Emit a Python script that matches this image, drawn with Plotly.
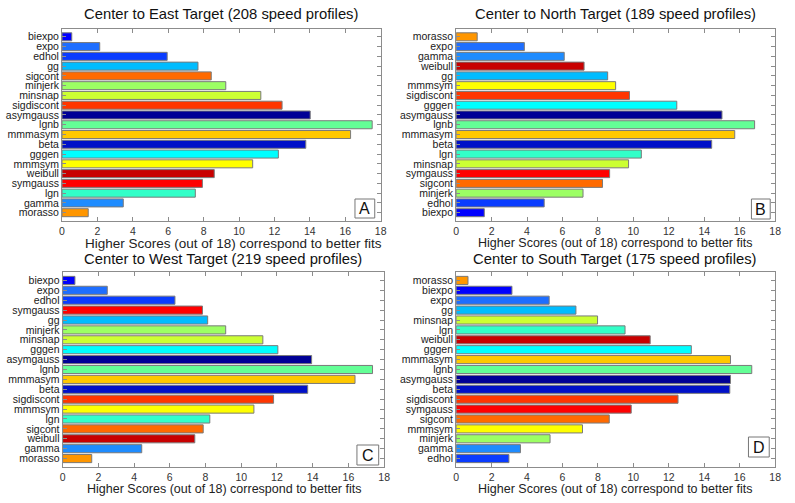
import plotly.graph_objects as go

# ---- data (top-to-bottom order as drawn) ----
east_models = ["biexpo", "expo", "edhol", "gg", "sigcont", "minjerk", "minsnap", "sigdiscont",
               "asymgauss", "lgnb", "mmmasym", "beta", "gggen", "mmmsym", "weibull", "symgauss",
               "lgn", "gamma", "morasso"]
east_scores = [0.55, 2.13, 5.94, 7.68, 8.43, 9.25, 11.23, 12.43, 14.02, 17.52, 16.30, 13.77,
               12.22, 10.77, 8.60, 7.93, 7.53, 3.46, 1.48]

north_models = ["morasso", "expo", "gamma", "weibull", "gg", "mmmsym", "sigdiscont", "gggen",
                "asymgauss", "lgnb", "mmmasym", "beta", "lgn", "minsnap", "symgauss", "sigcont",
                "minjerk", "edhol", "biexpo"]
north_scores = [1.19, 3.85, 6.10, 7.22, 8.55, 9.00, 9.78, 12.45, 15.00, 16.84, 15.72, 14.42,
                10.45, 9.73, 8.66, 8.26, 7.16, 4.97, 1.59]

west_models = ["biexpo", "expo", "edhol", "symgauss", "gg", "minjerk", "minsnap", "gggen",
               "asymgauss", "lgnb", "mmmasym", "beta", "sigdiscont", "mmmsym", "lgn", "sigcont",
               "weibull", "gamma", "morasso"]
west_scores = [0.69, 2.50, 6.29, 7.83, 8.12, 9.13, 11.21, 12.05, 13.94, 17.35, 16.37, 13.72,
               11.81, 10.71, 8.24, 7.87, 7.40, 4.43, 1.63]

south_models = ["morasso", "biexpo", "expo", "gg", "minsnap", "lgn", "weibull", "gggen",
                "mmmasym", "lgnb", "asymgauss", "beta", "sigdiscont", "symgauss", "sigcont",
                "mmmsym", "minjerk", "gamma", "edhol"]
south_scores = [0.67, 3.15, 5.25, 6.76, 7.98, 9.53, 10.95, 13.27, 15.48, 16.68, 15.48, 15.44,
                12.52, 9.88, 8.64, 7.13, 5.30, 3.63, 2.98]

titles = ["Center to East Target (208 speed profiles)",
          "Center to North Target (189 speed profiles)",
          "Center to West Target (219 speed profiles)",
          "Center to South Target (175 speed profiles)"]
panel_letters = ["A", "B", "C", "D"]
x_title = "Higher Scores (out of 18) correspond to better fits"
x_ticks = [0, 2, 4, 6, 8, 10, 12, 14, 16, 18]

model_colors = {
    "biexpo": "#0000ff", "expo": "#1e6eff", "edhol": "#0a3cff", "gg": "#00bcff",
    "sigcont": "#ff6a00", "minjerk": "#9cff64", "minsnap": "#ccff33", "sigdiscont": "#ff3600",
    "asymgauss": "#000096", "lgnb": "#64ff96", "mmmasym": "#ffc800", "beta": "#0010c8",
    "gggen": "#00ffff", "mmmsym": "#ffff00", "weibull": "#c80000", "symgauss": "#ff0000",
    "lgn": "#32ffc8", "gamma": "#1e8cff", "morasso": "#ff9600",
}

W, H = 795, 503
# panel boxes in pixels: (left, right, top, bottom)
boxes = [(59.7, 382.0, 28.5, 221.0),
         (458.3, 781.0, 28.5, 221.0),
         (60.3, 385.5, 272.0, 467.0),
         (458.3, 781.0, 272.0, 467.0)]
letter_boxes = [(356, 376, 199, 218), (757, 776, 199, 219), (358, 380, 445, 465), (754, 775, 437, 457)]
title_pos = [(220.5, 14), (620, 14), (222.5, 259), (619.5, 259)]
xtitle_pos = [(233, 243), (619.5, 243), (223.5, 489), (619.5, 489)]
xtitle_size = [13.5, 12.5, 12.5, 12.5]

panels = [(east_models, east_scores), (north_models, north_scores),
          (west_models, west_scores), (south_models, south_scores)]

fig = go.Figure()
FONT = "Liberation Sans, Arial, sans-serif"
axis_gray = "#8c8c8c"

def px(x):
    return x / W

def py(y):
    return 1 - y / H

for i, ((models, scores), box) in enumerate(zip(panels, boxes)):
    n = i + 1
    xa = "x" if n == 1 else f"x{n}"
    ya = "y" if n == 1 else f"y{n}"
    fig.add_trace(go.Bar(
        x=scores, y=models, orientation="h",
        marker=dict(color=[model_colors[m] for m in models],
                    line=dict(color="#7a7a7a", width=1)),
        xaxis=xa, yaxis=ya, showlegend=False, hoverinfo="x+y",
    ))
    l, r, t, b = box
    xkey = "xaxis" if n == 1 else f"xaxis{n}"
    ykey = "yaxis" if n == 1 else f"yaxis{n}"
    fig.update_layout(**{
        xkey: dict(domain=[px(l), px(r)], anchor=ya, range=[0, 18],
                   tickvals=x_ticks, ticks="inside", ticklen=4, tickcolor=axis_gray,
                   showline=True, linecolor=axis_gray, linewidth=1, mirror="ticks",
                   showgrid=False, zeroline=False, ticklabelstandoff=0,
                   tickfont=dict(family=FONT, size=10.5, color="#333333")),
        ykey: dict(domain=[py(b), py(t)], anchor=xa, type="category",
                   categoryorder="array", categoryarray=models,
                   tickmode="array", tickvals=models, ticktext=models,
                   range=[len(models) - 1 + 0.85, -0.85],
                   ticks="inside", ticklen=4, tickcolor=axis_gray,
                   showline=True, linecolor=axis_gray, linewidth=1, mirror="ticks",
                   showgrid=False, zeroline=False, ticklabelstandoff=0,
                   tickfont=dict(family=FONT, size=10.5, color="#1a1a1a")),
    })
    # title
    tx, ty = title_pos[i]
    fig.add_annotation(text=titles[i], xref="paper", yref="paper",
                       x=px(tx), y=py(ty), xanchor="center", yanchor="middle",
                       showarrow=False, font=dict(family=FONT, size=14.8, color="#111111"))
    # x-axis title
    xx, xy = xtitle_pos[i]
    fig.add_annotation(text=x_title, xref="paper", yref="paper",
                       x=px(xx), y=py(xy), xanchor="center", yanchor="middle",
                       showarrow=False, font=dict(family=FONT, size=xtitle_size[i], color="#222222"))
    # panel letter box
    lx0, lx1, ly0, ly1 = letter_boxes[i]
    fig.add_shape(type="rect", xref="paper", yref="paper",
                  x0=px(lx0), x1=px(lx1), y0=py(ly1), y1=py(ly0),
                  line=dict(color="#777777", width=1), fillcolor="white")
    fig.add_annotation(text=panel_letters[i], xref="paper", yref="paper",
                       x=px((lx0 + lx1) / 2), y=py((ly0 + ly1) / 2),
                       xanchor="center", yanchor="middle", showarrow=False,
                       font=dict(family=FONT, size=16, color="#111111"))

fig.update_layout(width=W, height=H, margin=dict(l=0, r=0, t=0, b=0),
                  paper_bgcolor="white", plot_bgcolor="white", bargap=0.18)

fig.write_html("out.html", config={"displayModeBar": False},
               post_script="document.body.style.margin='0';")
